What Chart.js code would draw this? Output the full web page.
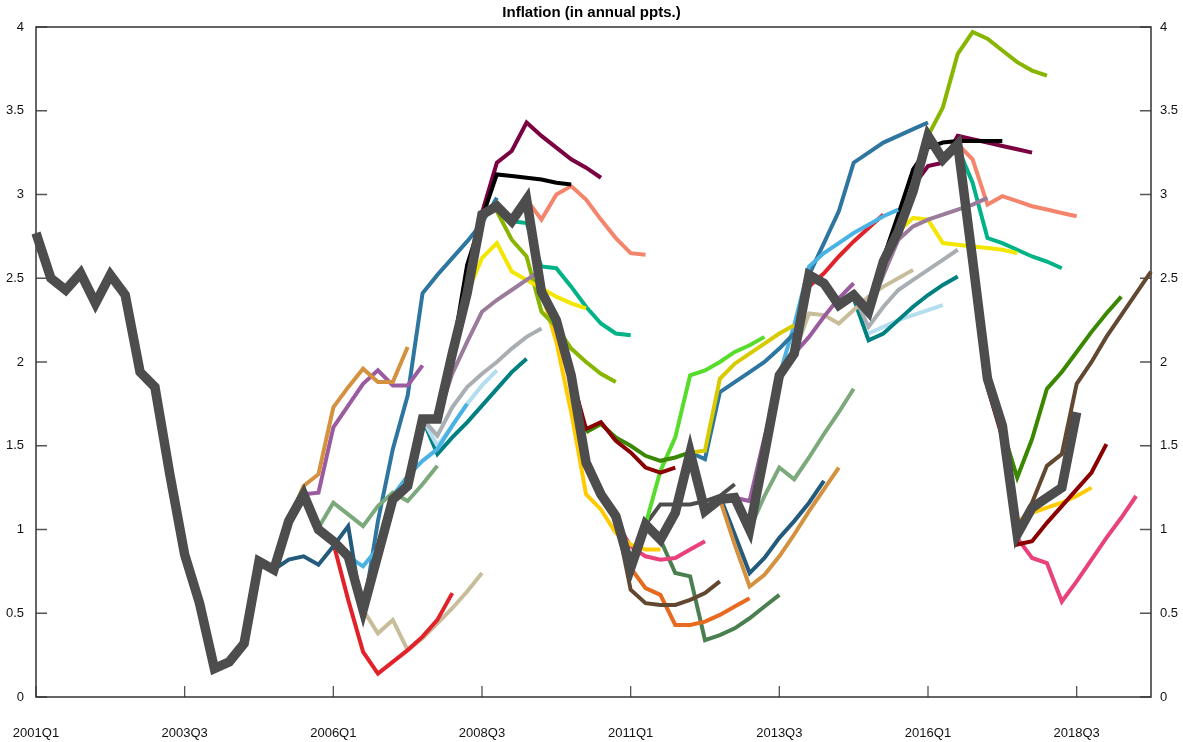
<!DOCTYPE html>
<html>
<head>
<meta charset="utf-8">
<script src="https://cdn.jsdelivr.net/npm/chart.js@4/dist/chart.umd.min.js"></script>
<style>
  html, body { margin: 0; padding: 0; background: #fff; }
  #wrap { width: 1183px; height: 742px; }
</style>
</head>
<body>
<div id="wrap"><canvas id="inflChart" width="1183" height="742"></canvas></div>
<script>
// quarters on the x axis, 2001Q1 .. 2019Q4
const quarters = [];
for (let y = 2001; y <= 2019; y++) {
  for (let q = 1; q <= 4; q++) quarters.push(y + 'Q' + q);
}
const tickQuarters = ['2001Q1', '2003Q3', '2006Q1', '2008Q3', '2011Q1', '2013Q3', '2016Q1', '2018Q3'];
const yTicks = [0, 0.5, 1, 1.5, 2, 2.5, 3, 3.5, 4];

// observed inflation, 2001Q1 .. 2018Q3
const actual = [2.77, 2.50, 2.43, 2.53, 2.35, 2.52, 2.40, 1.94, 1.85, 1.33,
  0.85, 0.56, 0.17, 0.21, 0.32, 0.81, 0.76, 1.05, 1.21, 1.00,
  0.93, 0.84, 0.52, 0.85, 1.18, 1.26, 1.66, 1.66, 2.05, 2.41,
  2.88, 2.93, 2.84, 2.97, 2.42, 2.25, 1.92, 1.40, 1.21, 1.08,
  0.77, 1.03, 0.94, 1.10, 1.46, 1.11, 1.18, 1.19, 1.00, 1.45,
  1.92, 2.05, 2.52, 2.47, 2.34, 2.40, 2.30, 2.60, 2.78, 3.02,
  3.35, 3.21, 3.30, 2.61, 1.90, 1.62, 0.97, 1.13, 1.19, 1.25, 1.70];

// projections: first quarter + values
const darkBlueA = { from: '2005Q1', values: [0.76, 0.82, 0.84, 0.79, 0.90, 1.02, 0.48] };
const peruA = { from: '2005Q2', values: [1.05, 1.26, 1.33, 1.73, 1.85, 1.96, 1.88, 1.88, 2.09] };
const purpleA = { from: '2005Q3', values: [1.21, 1.22, 1.61, 1.74, 1.87, 1.95, 1.86, 1.86, 1.98] };
const sageA = { from: '2005Q4', values: [1.01, 1.16, 1.09, 1.02, 1.14, 1.22, 1.17, 1.27, 1.38] };
const redA = { from: '2006Q1', values: [0.92, 0.58, 0.27, 0.14, 0.21, 0.28, 0.36, 0.46, 0.62] };
const skyA = { from: '2006Q2', values: [0.84, 0.78, 0.89, 1.20, 1.32, 1.41, 1.48, 1.62, 1.75] };
const steelA = { from: '2006Q3', values: [0.50, 1.05, 1.48, 1.80, 2.41, 2.52, 2.62, 2.72, 2.83, 2.98] };
const khakiA = { from: '2006Q3', values: [0.52, 0.38, 0.46, 0.28, 0.35, 0.44, 0.53, 0.63, 0.74] };
const silverA = { from: '2007Q3', values: [1.66, 1.56, 1.73, 1.85, 1.93, 2.00, 2.08, 2.15, 2.20] };
const paleA = { from: '2007Q3', values: [1.66, 1.50, 1.62, 1.75, 1.86, 1.95] };
const tealA = { from: '2007Q3', values: [1.66, 1.45, 1.55, 1.64, 1.74, 1.84, 1.94, 2.02] };
const mauveA = { from: '2007Q4', values: [1.66, 1.93, 2.12, 2.30, 2.37, 2.43, 2.49, 2.55] };
const blackA = { from: '2008Q1', values: [2.05, 2.58, 2.86, 3.12, 3.11, 3.10, 3.09, 3.07, 3.06] };
const yellowA = { from: '2008Q2', values: [2.41, 2.62, 2.71, 2.54, 2.49, 2.44, 2.39, 2.35, 2.32] };
const maroonA = { from: '2008Q3', values: [2.89, 3.19, 3.26, 3.43, 3.35, 3.28, 3.21, 3.16, 3.10] };
const oliveA = { from: '2008Q4', values: [2.90, 2.73, 2.63, 2.30, 2.21, 2.08, 2.00, 1.93, 1.88] };
const jadeA = { from: '2009Q1', values: [2.84, 2.83, 2.57, 2.56, 2.45, 2.33, 2.23, 2.17, 2.16] };
const salmonA = { from: '2009Q2', values: [2.97, 2.85, 3.00, 3.05, 2.97, 2.85, 2.74, 2.65, 2.64] };
const goldA = { from: '2009Q3', values: [2.42, 2.12, 1.70, 1.21, 1.12, 0.98, 0.91, 0.88, 0.88] };
const darkRedA = { from: '2010Q1', values: [1.92, 1.60, 1.64, 1.53, 1.46, 1.37, 1.34, 1.37] };
const greenA = { from: '2010Q2', values: [1.58, 1.63, 1.55, 1.50, 1.44, 1.41, 1.43, 1.46] };
const pinkA = { from: '2010Q3', values: [1.21, 1.05, 0.90, 0.84, 0.82, 0.83, 0.88, 0.93] };
const brownA = { from: '2010Q4', values: [1.08, 0.64, 0.56, 0.55, 0.55, 0.58, 0.62, 0.69] };
const orangeA = { from: '2011Q1', values: [0.77, 0.65, 0.61, 0.43, 0.43, 0.45, 0.49, 0.54, 0.59] };
const limeA = { from: '2011Q2', values: [1.03, 1.35, 1.55, 1.92, 1.95, 2.00, 2.06, 2.10, 2.15] };
const greyA = { from: '2011Q2', values: [1.03, 1.15, 1.15, 1.15, 1.17, 1.20, 1.27] };
const fernA = { from: '2011Q3', values: [0.94, 0.74, 0.72, 0.34, 0.37, 0.41, 0.47, 0.54, 0.61] };
const mustardA = { from: '2012Q1', values: [1.46, 1.47, 1.90, 1.99, 2.05, 2.11, 2.17, 2.22] };
const steelB = { from: '2012Q1', values: [1.46, 1.42, 1.82, 1.88, 1.94, 2.00, 2.08, 2.17] };
const peruB = { from: '2012Q3', values: [1.18, 0.91, 0.66, 0.73, 0.84, 0.97, 1.11, 1.24, 1.37] };
const darkBlueB = { from: '2012Q3', values: [1.20, 0.97, 0.74, 0.83, 0.95, 1.05, 1.16, 1.29] };
const purpleB = { from: '2012Q4', values: [1.19, 1.17, 1.55, 1.90, 2.05, 2.15, 2.27, 2.38, 2.47] };
const sageB = { from: '2013Q1', values: [1.00, 1.20, 1.37, 1.30, 1.43, 1.57, 1.70, 1.84] };
const skyB = { from: '2013Q3', values: [1.92, 2.22, 2.57, 2.65, 2.71, 2.77, 2.82, 2.87, 2.91] };
const redB = { from: '2013Q4', values: [2.05, 2.45, 2.53, 2.63, 2.72, 2.80, 2.88] };
const khakiB = { from: '2013Q4', values: [2.05, 2.29, 2.28, 2.23, 2.31, 2.39, 2.45, 2.50, 2.55] };
const steelC = { from: '2014Q1', values: [2.52, 2.71, 2.90, 3.19, 3.25, 3.31, 3.35, 3.39, 3.43] };
const silverB = { from: '2014Q4', values: [2.40, 2.21, 2.33, 2.43, 2.49, 2.55, 2.61, 2.67] };
const tealB = { from: '2014Q4', values: [2.38, 2.13, 2.17, 2.25, 2.33, 2.40, 2.46, 2.51] };
const paleB = { from: '2015Q1', values: [2.17, 2.21, 2.25, 2.28, 2.31, 2.34] };
const mauveB = { from: '2015Q1', values: [2.30, 2.52, 2.73, 2.81, 2.85, 2.88, 2.91, 2.94, 2.98] };
const blackB = { from: '2015Q2', values: [2.62, 2.88, 3.15, 3.28, 3.31, 3.32, 3.32, 3.32, 3.32] };
const yellowB = { from: '2015Q3', values: [2.78, 2.86, 2.85, 2.71, 2.70, 2.69, 2.68, 2.67, 2.65] };
const maroonB = { from: '2015Q4', values: [3.05, 3.17, 3.19, 3.35, 3.33, 3.31, 3.29, 3.27, 3.25] };
const oliveB = { from: '2016Q1', values: [3.35, 3.52, 3.84, 3.97, 3.93, 3.86, 3.79, 3.74, 3.71] };
const salmonB = { from: '2016Q3', values: [3.30, 3.21, 2.94, 2.99, 2.96, 2.93, 2.91, 2.89, 2.87] };
const jadeB = { from: '2016Q3', values: [3.28, 3.07, 2.74, 2.71, 2.67, 2.63, 2.60, 2.56] };
const darkRedB = { from: '2017Q1', values: [1.85, 1.55, 0.91, 0.93, 1.04, 1.14, 1.24, 1.34, 1.51] };
const greenB = { from: '2017Q1', values: [1.90, 1.60, 1.31, 1.54, 1.84, 1.94, 2.06, 2.18, 2.29, 2.39] };
const goldB = { from: '2017Q1', values: [1.90, 1.62, 1.05, 1.10, 1.13, 1.16, 1.20, 1.25] };
const pinkB = { from: '2017Q3', values: [0.95, 0.83, 0.80, 0.57, 0.69, 0.82, 0.95, 1.07, 1.20] };
const brownB = { from: '2017Q3', values: [0.97, 1.16, 1.38, 1.45, 1.87, 2.00, 2.15, 2.28, 2.41, 2.54] };

// colours for each projection
const projections = [
  [darkBlueA, '#245b7c'], [peruA, '#d4913f'], [purpleA, '#9b5c9f'], [sageA, '#7ca97c'],
  [redA, '#e2222a'], [skyA, '#4ab3e4'], [steelA, '#2e76a0'], [khakiA, '#c8bd9b'],
  [silverA, '#a9aeb2'], [paleA, '#b3deef'], [tealA, '#008080'], [mauveA, '#9a7b9a'],
  [blackA, '#000000'], [yellowA, '#f3e600'], [maroonA, '#7a0042'], [oliveA, '#87b500'],
  [jadeA, '#00b386'], [salmonA, '#f4846b'], [goldA, '#ffcb00'], [darkRedA, '#8a0000'],
  [greenA, '#3a8700'], [pinkA, '#e8417b'], [brownA, '#624830'], [orangeA, '#e86a1e'],
  [limeA, '#57dc2b'], [greyA, '#4d4d4d'], [fernA, '#4a8050'], [mustardA, '#d7cb00'],
  [steelB, '#2e76a0'], [peruB, '#d4913f'], [darkBlueB, '#245b7c'], [purpleB, '#9b5c9f'],
  [sageB, '#7ca97c'], [skyB, '#4ab3e4'], [redB, '#e2222a'], [khakiB, '#c8bd9b'],
  [steelC, '#2e76a0'], [silverB, '#a9aeb2'], [tealB, '#008080'], [paleB, '#b3deef'],
  [mauveB, '#9a7b9a'], [blackB, '#000000'], [yellowB, '#f3e600'], [maroonB, '#7a0042'],
  [oliveB, '#87b500'], [salmonB, '#f4846b'], [jadeB, '#00b386'], [darkRedB, '#8a0000'],
  [greenB, '#3a8700'], [goldB, '#ffcb00'], [pinkB, '#e8417b'], [brownB, '#624830']
];

function spread(p) {
  const out = quarters.map(() => null);
  const start = quarters.indexOf(p.from);
  p.values.forEach((v, i) => { out[start + i] = v; });
  return out;
}

const datasets = [{
  data: actual,
  borderColor: '#4d4d4d',
  borderWidth: 9.5,
  order: 0
}];
projections.forEach(([p, col]) => {
  datasets.push({ data: spread(p), borderColor: col, borderWidth: 4, order: 1 });
});

// frame + inward tick marks
const frameTicks = {
  id: 'frameTicks',
  beforeDatasetsDraw(chart) {
    const { ctx, chartArea: a, scales } = chart;
    ctx.save();
    ctx.strokeStyle = '#555';
    ctx.lineWidth = 1.3;
    ctx.beginPath();
    tickQuarters.forEach(q => {
      const x = scales.x.getPixelForValue(quarters.indexOf(q));
      ctx.moveTo(x, a.bottom); ctx.lineTo(x, a.bottom - 11);
    });
    yTicks.forEach(v => {
      const y = scales.y.getPixelForValue(v);
      ctx.moveTo(a.left, y); ctx.lineTo(a.left + 11, y);
      ctx.moveTo(a.right, y); ctx.lineTo(a.right - 11, y);
    });
    ctx.stroke();
    ctx.strokeStyle = '#333';
    ctx.lineWidth = 1.5;
    ctx.strokeRect(a.left, a.top, a.right - a.left, a.bottom - a.top);
    ctx.restore();
  }
};

Chart.defaults.font.family = '"Liberation Sans", Arial, sans-serif';
Chart.defaults.color = '#111';

new Chart('inflChart', {
  type: 'line',
  data: { labels: quarters, datasets: datasets },
  options: {
    responsive: false,
    animation: false,
    layout: { padding: { left: 0, right: 0, top: 0, bottom: 1 } },
    elements: {
      point: { radius: 0, hoverRadius: 0 },
      line: { tension: 0, borderCapStyle: 'butt', borderJoinStyle: 'miter' }
    },
    spanGaps: false,
    plugins: {
      legend: { display: false },
      tooltip: { enabled: false },
      title: {
        display: true,
        text: 'Inflation (in annual ppts.)',
        font: { size: 15, weight: 'bold' },
        color: '#000',
        padding: { top: 4, bottom: 5 }
      }
    },
    scales: {
      x: {
        type: 'category',
        offset: false,
        grid: { display: false, drawTicks: false },
        border: { display: false },
        afterFit: s => { s.height = 44; },
        ticks: {
          autoSkip: false,
          maxRotation: 0,
          padding: 10,
          font: { size: 13, lineHeight: '52px' },
          callback: function (v, i) {
            const lab = quarters[i];
            return tickQuarters.includes(lab) ? lab : '';
          }
        }
      },
      y: {
        position: 'left',
        min: 0, max: 4,
        grid: { display: false, drawTicks: false },
        border: { display: false },
        afterFit: s => { s.width = 36; },
        ticks: { stepSize: 0.5, padding: 12, font: { size: 13 }, callback: v => String(v) }
      },
      y2: {
        position: 'right',
        min: 0, max: 4,
        grid: { display: false, drawTicks: false },
        border: { display: false },
        afterFit: s => { s.width = 32; },
        ticks: { stepSize: 0.5, padding: 9, font: { size: 13 }, callback: v => String(v) }
      }
    }
  },
  plugins: [frameTicks]
});
</script>
</body>
</html>
